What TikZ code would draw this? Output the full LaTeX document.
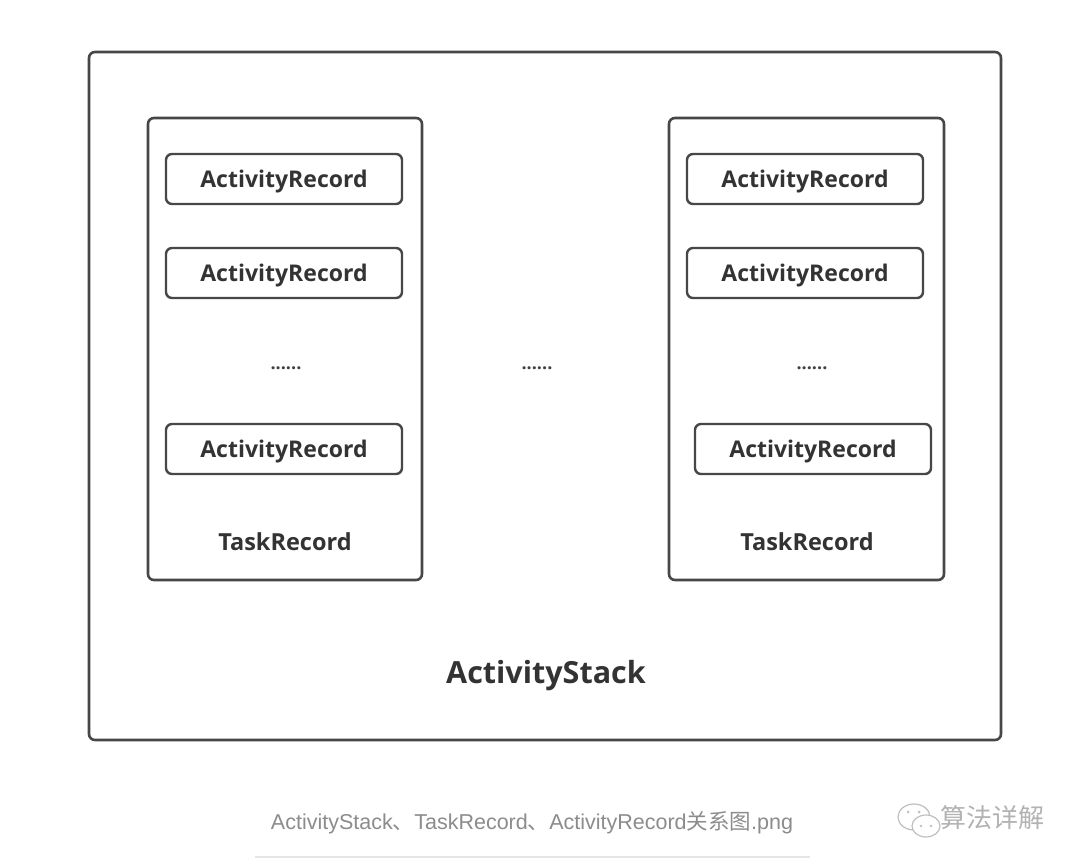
\documentclass[tikz,border=0pt]{standalone}
\usepackage{fontspec}
\setmainfont{Open Sans}
\newfontfamily\capfont{Liberation Sans}
\newfontfamily\cjk{Noto Sans CJK SC}
\begin{document}
\begin{tikzpicture}[x=1pt,y=-1pt,
  box/.style={draw=black!72,line width=2.6pt,rounded corners=6pt},
  arbox/.style={draw=black!72,line width=2.4pt,rounded corners=6pt,minimum width=236pt,minimum height=50pt,inner sep=0pt},
  artext/.style={font=\fontsize{23}{23}\selectfont\bfseries,text=black!80,inner sep=0pt},
  lbl/.style={font=\fontsize{23.5}{23.5}\selectfont\bfseries,text=black!80,inner sep=0pt},
  dots/.style={font=\fontsize{18}{18}\selectfont\bfseries,text=black!75,inner sep=0pt}]
\useasboundingbox (0,0) rectangle (1080,864);
\fill[white] (0,0) rectangle (1080,864);
\draw[box] (89,52) rectangle (1001,740);
\draw[box] (148,118) rectangle (422,580);
\draw[box] (669,118) rectangle (944,580);
\node[arbox] (l1) at (284,179) {};
\node[arbox] (l2) at (284,273) {};
\node[arbox] (l3) at (284,449) {};
\node[arbox] (r1) at (805,179) {};
\node[arbox] (r2) at (805,273) {};
\node[arbox] (r3) at (813,449) {};
\foreach \n in {l1,l2,l3,r1,r2,r3}{
  \node[artext] (\n t) at ([yshift=-3pt]\n.center) {ActivityRecord};
}
\node[dots] (d1) at (286,368) {......};
\node[dots] (d2) at (537,368) {......};
\node[dots] (d3) at (812,368) {......};
\node[lbl] (t1) at (285,542) {TaskRecord};
\node[lbl] (t2) at (807,542) {TaskRecord};
\node[lbl,font=\fontsize{30.5}{30.5}\selectfont\bfseries] (as) at (546,676) {ActivityStack};
\node[inner sep=0pt,text=black!45] (cap) at (532,823) {\fontsize{21.5}{21.5}\selectfont\capfont ActivityStack{\cjk 、}TaskRecord{\cjk 、}ActivityRecord{\cjk 关系图}.png};
\draw[black!10,line width=1.5pt] (255,857) -- (810,857);
% watermark
\draw[black!25,line width=1.2pt,fill=white] (914,817) ellipse (16pt and 13pt);
\draw[black!25,line width=1.2pt,fill=white] (926,826) ellipse (14pt and 11pt);
\fill[black!25] (908,812) circle (1.5pt) (919,812) circle (1.5pt) (921,826) circle (1.3pt) (931,826) circle (1.3pt);
\node[inner sep=0pt,text=black!30,anchor=west] (wm) at (940,818) {\fontsize{26}{26}\selectfont\cjk 算法详解};
\end{tikzpicture}
\end{document}
